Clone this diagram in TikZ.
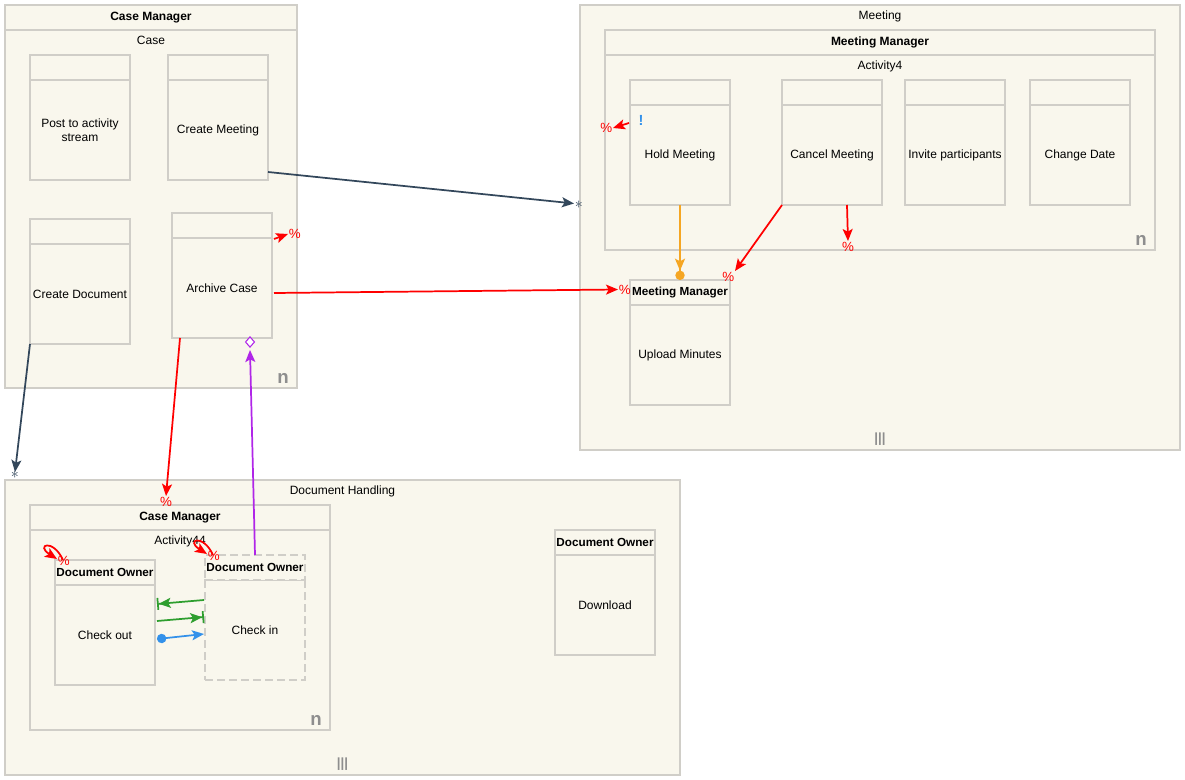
\documentclass[tikz,border=0pt]{standalone}
\usepackage{fontspec}
\setmainfont{Liberation Sans}
\usepackage{xcolor}
\usetikzlibrary{shapes.geometric, arrows.meta, positioning, calc}

\definecolor{paper}{HTML}{F9F7ED}
\definecolor{edgegray}{HTML}{D0CEC8}
\definecolor{markgray}{HTML}{8E8E8E}
\definecolor{navyline}{HTML}{33475B}
\definecolor{redline}{HTML}{FF0000}
\definecolor{amberline}{HTML}{F5A623}
\definecolor{purpleline}{HTML}{B026E8}
\definecolor{greenline}{HTML}{2E9E2E}
\definecolor{blueline}{HTML}{3391EA}

\begin{document}
\begin{tikzpicture}[
    x=0.75pt, y=-0.75pt,
    font=\fontsize{9}{10.5}\selectfont,
    pool/.style={draw=edgegray, line width=1.5pt, fill=paper, anchor=north west, inner sep=0pt, outer sep=0pt},
    lanehead/.style={pool, minimum height=18.75pt, font=\fontsize{9}{10.5}\selectfont\bfseries},
    taskbody/.style={pool, minimum width=75pt, minimum height=75pt, align=center},
    taskhead/.style={pool, minimum width=75pt, minimum height=18.75pt, font=\fontsize{8.8}{10}\selectfont\bfseries},
    poolname/.style={anchor=north, inner sep=4.5pt},
    nmark/.style={anchor=south east, inner sep=3pt, xshift=-3pt, text=markgray, font=\fontsize{14}{14}\selectfont\bfseries},
    bars/.style={anchor=south, inner sep=3pt, text=markgray, font=\fontsize{10}{10}\selectfont\bfseries},
    link/.style={line width=1.3pt},
    arr/.style={-{Stealth[length=9pt, width=7.5pt, inset=2pt]}},
    pct/.style={text=redline, inner sep=0pt, font=\fontsize{10}{10}\selectfont},
    multi/.style={text=navyline, inner sep=0pt, font=\fontsize{12}{12}\selectfont},
    agg/.style={diamond, draw=purpleline, fill=white, line width=0.8pt, inner sep=0pt, minimum width=7pt, minimum height=8pt},
]
\useasboundingbox (0,0) rectangle (1185,780);

% Pools and lanes
\node[lanehead, minimum width=219pt] (caseH) at (5,5) {Case Manager};
\node[pool, minimum width=219pt, minimum height=268.5pt, below=0pt of caseH,
      label={[poolname]north:Case}, label={[nmark]south east:n}] (caseB) {};

\node[pool, minimum width=450pt, minimum height=333.75pt,
      label={[poolname]north:Meeting}, label={[bars]south:|||}] (meetPool) at (580,5) {};
\node[lanehead, minimum width=412.5pt] (mmH) at (605,30) {Meeting Manager};
\node[pool, minimum width=412.5pt, minimum height=146.25pt, below=0pt of mmH,
      label={[poolname]north:Activity4}, label={[nmark]south east:n}] (mmB) {};

\node[pool, minimum width=506.25pt, minimum height=221.25pt,
      label={[poolname]north:Document Handling}, label={[bars]south:|||}] (dhPool) at (5,480) {};
\node[lanehead, minimum width=225pt] (cm2H) at (30,505) {Case Manager};
\node[pool, minimum width=225pt, minimum height=150pt, below=0pt of cm2H,
      label={[poolname]north:Activity44}, label={[nmark]south east:n}] (cm2B) {};

% Task bodies
\node[taskbody] (post) at (30,80) {Post to activity\\stream};
\node[taskbody] (meet) at (168,80) {Create Meeting};
\node[taskbody] (doc) at (30,244) {Create Document};
\node[taskbody] (arch) at (172,238) {Archive Case};
\node[taskbody] (hold) at (630,105) {Hold Meeting};
\node[taskbody] (cancel) at (782,105) {Cancel Meeting};
\node[taskbody] (invite) at (905,105) {Invite participants};
\node[taskbody] (change) at (1030,105) {Change Date};
\node[taskbody] (upload) at (630,305) {Upload Minutes};
\node[taskbody] (checkout) at (55,585) {Check out};
\node[taskbody, dash pattern=on 6pt off 3pt] (checkin) at (205,580) {Check in};
\node[taskbody] (download) at (555,555) {Download};

% Task headers on top of each body
\foreach \t in {post, meet, doc, arch, hold, cancel, invite, change} {
    \node[taskhead, above=0pt of \t] (\t H) {};
}
\node[taskhead, above=0pt of upload] (uploadH) {Meeting Manager};
\node[taskhead, above=0pt of checkout] (checkoutH) {Document Owner};
\node[taskhead, dash pattern=on 6pt off 3pt, above=0pt of checkin] (checkinH) {Document Owner};
\node[taskhead, above=0pt of download] (downloadH) {Document Owner};

\node[text=blueline, font=\fontsize{11}{11}\selectfont\bfseries] (warn) at ($(hold.north west)+(11,15)$) {!};

% Free ends
\coordinate (meetIn) at ($(meetPool.west)+(-6,-24)$);
\coordinate (docIn) at ($(dhPool.north west)+(10,-8)$);

% Flows between pools
\draw[navyline, link, arr] ($(meet.south east)+(0,-8)$) -- (meetIn)
    node[multi, anchor=west, yshift=-1pt] (m1) {$\ast$};
\draw[navyline, link, arr] (doc.south west) -- (docIn)
    node[multi, anchor=north, yshift=1pt] (m2) {$\ast$};
\draw[redline, link, arr] ($(arch.east)+(2,5)$) -- ($(uploadH.west)+(-12,-3)$)
    node[pct, anchor=west] (p1) {\%};
\draw[redline, link, arr] ($(archH.south east)+(2,1)$) -- ++(14,-5)
    node[pct, anchor=west] (p2) {\%};
\draw[redline, link, arr] ($(arch.south west)+(8,0)$) -- ($(cm2H.north)+(-14,-9)$)
    node[pct, anchor=north] (p3) {\%};
\draw[purpleline, link, arr] (checkinH.north) -- ($(arch.south)+(28,12)$);
\node[agg] (d1) at ($(arch.south)+(28,4)$) {};

% Flows inside Meeting
\draw[amberline, link, -{Stealth[length=9pt, width=7.5pt, inset=2pt] Circle[length=7pt]}] (hold.south) -- (uploadH.north);
\draw[redline, link, arr] (cancel.south west) -- ($(uploadH.north east)+(5,-9)$)
    node[pct, anchor=north east] (p4) {\%};
\draw[redline, link, arr] ($(cancel.south)+(15,0)$) -- ++(1,36)
    node[pct, anchor=north] (p5) {\%};
\draw[redline, link, arr] ($(hold.north west)+(-1,18)$) -- ++(-16,5)
    node[pct, anchor=east] (p6) {\%};

% Flows inside Document Handling
\draw[redline, link, arr] ($(checkoutH.north west)+(8,0)$) .. controls +(-10,-22) and +(-22,-14) .. ($(checkoutH.north west)+(2,-1)$)
    node[pct, anchor=north west, yshift=3pt] (p7) {\%};
\draw[redline, link, arr] ($(checkinH.north west)+(8,0)$) .. controls +(-10,-22) and +(-22,-14) .. ($(checkinH.north west)+(2,-1)$)
    node[pct, anchor=north west, yshift=3pt] (p8) {\%};
\draw[greenline, link, -{Stealth[length=9pt, width=7.5pt, inset=2pt] Bar[width=9pt]}] ($(checkin.west)+(-1,-30)$) -- ($(checkout.east)+(2,-31)$);
\draw[greenline, link, -{Stealth[length=9pt, width=7.5pt, inset=2pt] Bar[width=9pt]}] ($(checkout.east)+(2,-14)$) -- ($(checkin.west)+(-1,-13)$);
\draw[blueline, link, {Circle[length=7pt]}-{Stealth[length=9pt, width=7.5pt, inset=2pt]}] ($(checkout.east)+(2,4)$) -- ($(checkin.west)+(-1,4)$);

\end{tikzpicture}
\end{document}
